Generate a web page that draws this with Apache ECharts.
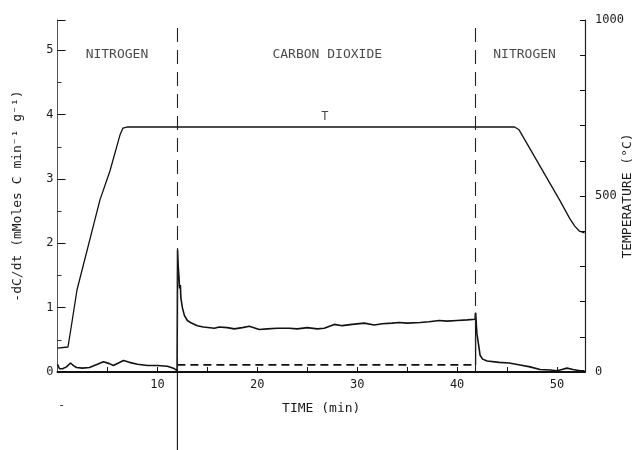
<!DOCTYPE html>
<html>
<head>
<meta charset="utf-8">
<script src="https://cdn.jsdelivr.net/npm/echarts@6/dist/echarts.min.js"></script>
<style>
  html, body { margin: 0; padding: 0; background: #fff; }
  #chart { width: 635px; height: 450px; }
</style>
</head>
<body>
<div id="chart"></div>
<script>
// temperature trace (right axis, deg C)
const tempTime = [0, 1.05, 1.45, 1.95, 4.25, 5.25, 6.25, 6.55, 6.95, 20, 30, 45.75, 46.2, 50.25, 51.25, 51.75, 52.25, 52.75]
const tempC = [68, 71, 142, 233, 489, 571, 673, 693, 696, 696, 696, 696, 688, 489, 437, 415, 400, 395]

// carbon gasification rate (left axis)
const rateTime = [0, 0.2, 0.5, 0.9, 1.3, 1.6, 1.9, 2.5, 3.2, 4, 4.6, 5.2, 5.6, 6.1, 6.6, 7.2, 8, 9, 10, 11, 11.6, 11.97,
  12.0, 12.02, 12.08, 12.15, 12.22, 12.3, 12.35, 12.5, 12.7, 13.0, 13.4, 14, 14.6, 15.7, 16.2, 17, 17.7, 18.5, 19.2,
  20.2, 21, 22, 23.2, 24, 25, 26, 26.7, 27.7, 28.5, 29.5, 30.7, 31.7, 32.5, 33.5, 34.2, 35, 36.3, 37.2, 38.2, 39, 40,
  41, 41.8, 41.84, 41.9, 41.98, 42.15, 42.3, 42.55, 43, 44.2, 45.2, 46.3, 47.3, 48.3, 49.3, 50, 50.5, 51, 51.6, 52.3, 52.75]
const rate = [0.12, 0.05, 0.05, 0.08, 0.14, 0.1, 0.07, 0.06, 0.07, 0.12, 0.16, 0.13, 0.1, 0.14, 0.18, 0.15, 0.12, 0.1, 0.1, 0.09, 0.06, 0.02,
  0.05, 1.9, 1.65, 1.5, 1.3, 1.35, 1.15, 1.0, 0.88, 0.8, 0.76, 0.72, 0.7, 0.68, 0.7, 0.69, 0.67, 0.69, 0.71,
  0.66, 0.67, 0.68, 0.68, 0.67, 0.69, 0.67, 0.68, 0.74, 0.72, 0.74, 0.76, 0.73, 0.75, 0.76, 0.77, 0.76, 0.77, 0.78, 0.8, 0.79, 0.8,
  0.81, 0.82, 0.92, 0.8, 0.6, 0.42, 0.26, 0.2, 0.17, 0.15, 0.14, 0.11, 0.08, 0.04, 0.03, 0.02, 0.04, 0.06, 0.04, 0.02, 0.02]

const gasSwitch = [12, 41.85]
const baseLevel = 0.11
const belowAxisEnd = -1.22

const regionNames = ["NITROGEN", "CARBON DIOXIDE", "NITROGEN"]
const regionX = [5.95, 27, 46.75]
const regionY = 4.93
const tempLabelPos = [26.75, 724]

const font = "DejaVu Sans Mono"
const ink = "#1a1a1a"

const chart = echarts.init(document.getElementById("chart"))

chart.setOption({
  backgroundColor: "#fff",
  animation: false,
  textStyle: { fontFamily: font, color: ink },
  grid: { left: 57.5, right: 50, top: 20, bottom: 78, containLabel: false, outerBoundsMode: "none" },
  xAxis: {
    type: "value",
    min: 0,
    max: 52.8,
    interval: 5,
    name: "TIME (min)",
    nameLocation: "middle",
    nameGap: 30,
    nameMoveOverlap: false,
    nameTextStyle: { fontFamily: font, fontSize: 13, color: ink },
    axisLine: { lineStyle: { color: "#111", width: 2 } },
    axisTick: { inside: true, length: 5, lineStyle: { color: "#111" } },
    axisLabel: {
      fontFamily: font, fontSize: 12, color: ink, margin: 7,
      showMinLabel: false, showMaxLabel: false,
      formatter: v => (v % 10 === 0 && v > 0 ? String(v) : "")
    },
    splitLine: { show: false }
  },
  yAxis: [
    {
      type: "value",
      min: 0,
      max: 5.47,
      interval: 1,
      name: "-dC/dt (mMoles C min⁻¹ g⁻¹)",
      nameLocation: "middle",
      nameRotate: 90,
      nameGap: 33,
      nameMoveOverlap: false,
      nameTextStyle: { fontFamily: font, fontSize: 13, color: ink },
      axisLine: { show: true, lineStyle: { color: "#555", width: 1 } },
      axisTick: { inside: true, length: 8, lineStyle: { color: "#111" } },
      minorTick: { show: true, splitNumber: 2, length: 4, lineStyle: { color: "#333" } },
      axisLabel: {
        fontFamily: font, fontSize: 12, color: ink, margin: 4,
        showMaxLabel: false,
        formatter: v => (Number.isInteger(v) ? String(v) : "")
      },
      splitLine: { show: false }
    },
    {
      type: "value",
      min: 0,
      max: 1000,
      interval: 100,
      position: "right",
      name: "TEMPERATURE (°C)",
      nameLocation: "middle",
      nameRotate: 90,
      nameGap: 36,
      nameMoveOverlap: false,
      nameTextStyle: { fontFamily: font, fontSize: 13, color: ink },
      axisLine: { show: true, lineStyle: { color: "#222", width: 1.2 } },
      axisTick: { inside: true, length: 5, lineStyle: { color: "#111" } },
      axisLabel: {
        fontFamily: font, fontSize: 12, color: ink, margin: 10,
        formatter: v => (v % 500 === 0 ? String(v) : "")
      },
      splitLine: { show: false }
    }
  ],
  series: [
    {
      name: "temperature",
      type: "line",
      yAxisIndex: 1,
      symbol: "none",
      lineStyle: { color: "#111", width: 1.3 },
      data: tempTime.map((t, i) => [t, tempC[i]])
    },
    {
      name: "rate",
      type: "line",
      symbol: "none",
      lineStyle: { color: "#111", width: 1.6 },
      data: rateTime.map((t, i) => [t, rate[i]])
    },
    {
      name: "baseline",
      type: "line",
      symbol: "none",
      lineStyle: { color: "#111", width: 1.6, type: [8, 5] },
      data: [[gasSwitch[0], baseLevel], [gasSwitch[1], baseLevel]],
      markLine: {
        silent: true,
        symbol: "none",
        label: { show: false },
        lineStyle: { color: "#222", width: 1.1, type: [14, 8] },
        data: gasSwitch.map(x => ({ xAxis: x }))
      }
    },
    {
      name: "step",
      type: "line",
      symbol: "none",
      lineStyle: { color: "#111", width: 1.3 },
      data: [[gasSwitch[1], baseLevel], [gasSwitch[1], 0.92]]
    },
    {
      name: "below",
      type: "line",
      symbol: "none",
      clip: false,
      lineStyle: { color: "#111", width: 1.1 },
      data: [[gasSwitch[0], 0], [gasSwitch[0], belowAxisEnd]]
    },
    {
      name: "regions",
      type: "scatter",
      symbolSize: 0,
      label: {
        show: true, position: "inside", formatter: p => p.name,
        fontFamily: font, fontSize: 13, color: ink
      },
      data: regionNames.map((n, i) => ({ name: n, value: [regionX[i], regionY] }))
    },
    {
      name: "tlabel",
      type: "scatter",
      yAxisIndex: 1,
      symbolSize: 0,
      label: {
        show: true, position: "inside", formatter: "T",
        fontFamily: font, fontSize: 12, color: ink
      },
      data: [tempLabelPos]
    },
    {
      name: "mark",
      type: "scatter",
      symbolSize: 0,
      clip: false,
      label: {
        show: true, position: "inside", formatter: "-",
        fontFamily: font, fontSize: 12, color: ink
      },
      data: [[0.4, -0.52]]
    }
  ]
})
</script>
</body>
</html>
